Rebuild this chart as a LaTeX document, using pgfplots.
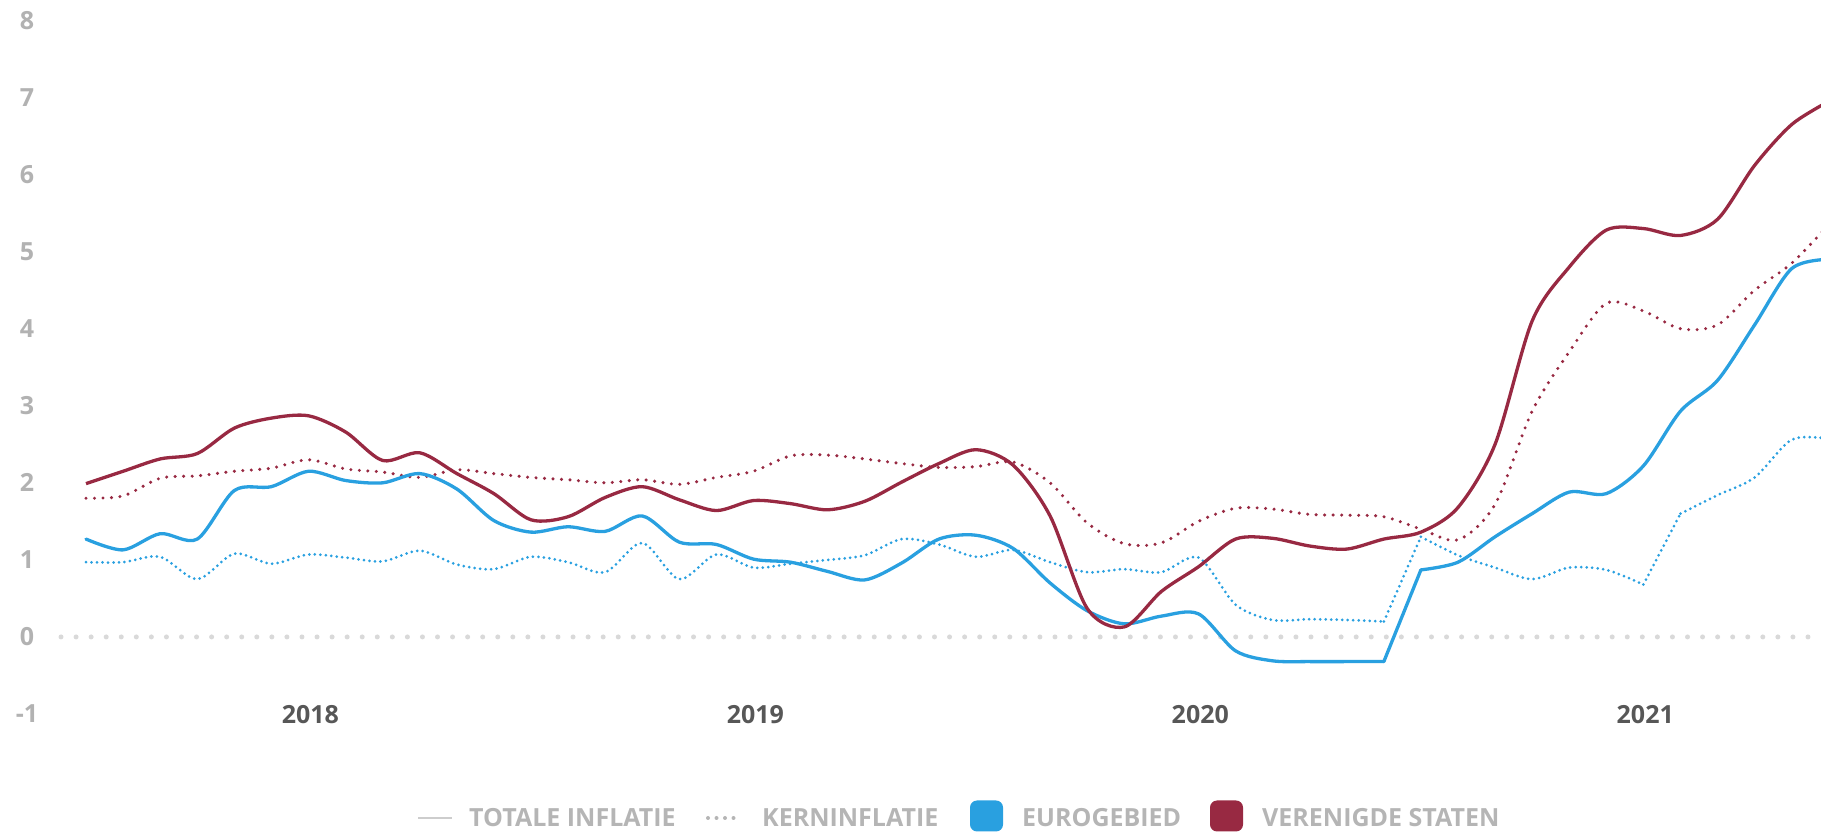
\documentclass[border=0pt]{standalone}
\usepackage{pgfplots}
\pgfplotsset{compat=1.18}
\usepackage{fontspec}
\setmainfont{Open Sans}
\definecolor{eublue}{RGB}{41,160,224}
\definecolor{usred}{RGB}{152,41,66}
\definecolor{ticklab}{RGB}{178,178,178}
\definecolor{yearlab}{RGB}{87,87,87}
\definecolor{zerodot}{RGB}{217,217,217}
\definecolor{legtext}{RGB}{181,181,181}
\definecolor{legline}{RGB}{205,205,205}

\begin{document}
\begin{tikzpicture}[x=1pt,y=1pt]
\useasboundingbox (0,0) rectangle (1821,832);
\begin{axis}[
  at={(50pt,118pt)}, anchor=south west,
  scale only axis, width=1771pt, height=693.5pt,
  xmin=-0.971, xmax=46.79, ymin=-1, ymax=8,
  axis line style={draw=none},
  major tick style={draw=none},
  major tick length=0pt,
  xtick={6.05,18.05,30.05,42.05},
  xticklabels={2018,2019,2020,2021},
  ytick={-1,0,1,2,3,4,5,6,7,8},
  yticklabels={-1,0,1,2,3,4,5,6,7,8},
  xticklabel style={anchor=center, inner sep=0pt, yshift=-1pt,
    font=\fontsize{25}{30}\selectfont\bfseries, text=yearlab},
  yticklabel style={anchor=center, inner sep=0pt, xshift=-23pt,
    font=\fontsize{25}{30}\selectfont\bfseries, text=ticklab},
  every axis plot/.append style={line join=round},
  eudot/.style={eublue, line width=3pt, line cap=round, dash pattern=on 0pt off 5.5pt},
  eusol/.style={eublue, line width=3.3pt, line cap=round},
]
% zero line
\addplot[zerodot, line width=5pt, line cap=round, dash pattern=on 0pt off 15.06pt]
  coordinates {(-0.674,0) (46.79,0)};

% Eurozone core (dotted)
\addplot[eudot, smooth, tension=0.5]
coordinates {
(0,0.97)(1,0.97)(2,1.04)(3,0.75)(4,1.08)(5,0.95)(6,1.07)(7,1.03)(8,0.98)(9,1.12)
(10,0.94)(11,0.88)(12,1.04)(13,0.97)(14,0.84)(15,1.22)(16,0.75)(17,1.07)(18,0.90)(19,0.95)
(20,1.00)(21,1.06)(22,1.27)(23,1.20)(24,1.04)(25,1.13)(26,0.97)(27,0.84)(28,0.88)(29,0.84)
(30,1.03)(31,0.42)(32,0.22)(33,0.23)(34,0.22)(35,0.20)
};
\addplot[eudot] coordinates {(35,0.20)(36,1.30)};
\addplot[eudot, smooth, tension=0.5]
coordinates {
(36,1.30)(37,1.06)(38,0.90)(39,0.75)(40,0.90)(41,0.87)(42,0.68)
};
\addplot[eudot] coordinates {(42,0.68)(43,1.60)};
\addplot[eudot, smooth, tension=0.5]
coordinates {
(43,1.60)(44,1.84)(45,2.07)(46,2.56)(47,2.57)
};

% US core (dotted)
\addplot[usred, line width=3.4pt, line cap=round, dash pattern=on 0pt off 8.5pt, smooth, tension=0.5]
coordinates {
(0,1.80)(1,1.83)(2,2.06)(3,2.09)(4,2.15)(5,2.19)(6,2.30)(7,2.18)(8,2.14)(9,2.07)
(10,2.17)(11,2.12)(12,2.07)(13,2.04)(14,2.00)(15,2.04)(16,1.98)(17,2.07)(18,2.15)(19,2.35)
(20,2.36)(21,2.31)(22,2.25)(23,2.20)(24,2.21)(25,2.27)(26,2.00)(27,1.48)(28,1.21)(29,1.22)
(30,1.50)(31,1.67)(32,1.66)(33,1.59)(34,1.58)(35,1.56)(36,1.40)(37,1.26)(38,1.72)(39,2.93)
(40,3.70)(41,4.33)(42,4.23)(43,4.00)(44,4.05)(45,4.50)(46,4.85)(47,5.35)
};

% Eurozone headline
\addplot[eusol, smooth, tension=0.5]
coordinates {
(0,1.27)(1,1.13)(2,1.34)(3,1.27)(4,1.90)(5,1.95)(6,2.15)(7,2.03)(8,2.00)(9,2.12)
(10,1.92)(11,1.51)(12,1.36)(13,1.43)(14,1.37)(15,1.57)(16,1.23)(17,1.20)(18,1.01)(19,0.97)
(20,0.85)(21,0.74)(22,0.96)(23,1.27)(24,1.32)(25,1.15)(26,0.70)(27,0.34)(28,0.17)(29,0.27)
(30,0.30)(31,-0.18)(32,-0.31)(33,-0.32)(34,-0.32)(35,-0.32)
};
\addplot[eusol] coordinates {(35,-0.32)(36,0.87)};
\addplot[eusol, smooth, tension=0.5]
coordinates {
(36,0.87)(37,0.97)(38,1.30)(39,1.60)
(40,1.88)(41,1.86)(42,2.22)(43,2.93)(44,3.33)(45,4.05)(46,4.78)(47,4.90)
};

% US headline
\addplot[usred, line width=3.3pt, smooth, tension=0.5]
coordinates {
(0,1.99)(1,2.15)(2,2.31)(3,2.38)(4,2.71)(5,2.84)(6,2.87)(7,2.66)(8,2.29)(9,2.39)
(10,2.12)(11,1.86)(12,1.52)(13,1.56)(14,1.81)(15,1.95)(16,1.78)(17,1.64)(18,1.77)(19,1.73)
(20,1.65)(21,1.76)(22,2.01)(23,2.25)(24,2.43)(25,2.23)(26,1.57)(27,0.37)(28,0.13)(29,0.59)
(30,0.91)(31,1.27)(32,1.28)(33,1.18)(34,1.14)(35,1.27)(36,1.36)(37,1.68)(38,2.50)(39,4.10)
(40,4.80)(41,5.28)(42,5.30)(43,5.21)(44,5.42)(45,6.12)(46,6.65)(47,6.95)
};
\end{axis}

% legend
\begin{scope}[font=\fontsize{25}{30}\selectfont\bfseries]
\draw[legline, line width=2.5pt] (418,14) -- (452,14);
\node[anchor=base west, inner sep=0pt, text=legtext] at (469,5) {TOTALE INFLATIE};
\draw[legtext, line width=4pt, line cap=round, dash pattern=on 0pt off 8.5pt] (708,14) -- (734,14);
\node[anchor=base west, inner sep=0pt, text=legtext] at (762,5) {KERNINFLATIE};
\fill[eublue, rounded corners=7pt] (970,0.5) rectangle (1003,31.5);
\node[anchor=base west, inner sep=0pt, text=legtext] at (1022,5) {EUROGEBIED};
\fill[usred, rounded corners=7pt] (1210,0.5) rectangle (1243,31.5);
\node[anchor=base west, inner sep=0pt, text=legtext] at (1262,5) {VERENIGDE STATEN};
\end{scope}
\end{tikzpicture}
\end{document}
